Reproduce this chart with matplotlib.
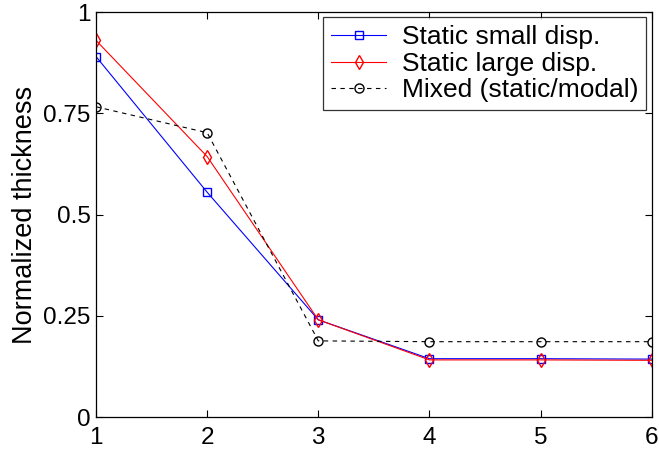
import matplotlib
matplotlib.use("Agg")
import matplotlib.pyplot as plt

# data
x = [1, 2, 3, 4, 5, 6]
small_disp = [0.89, 0.555, 0.24, 0.144, 0.144, 0.143]
large_disp = [0.93, 0.643, 0.24, 0.141, 0.141, 0.140]
mixed = [0.766, 0.702, 0.188, 0.186, 0.186, 0.186]

yticks = [0, 0.25, 0.5, 0.75, 1]
ytick_labels = ["0", "0.25", "0.5", "0.75", "1"]

plt.rcParams['font.family'] = ['Liberation Sans', 'DejaVu Sans']

fig = plt.figure(figsize=(6.59, 4.5), dpi=100)
ax = fig.add_axes([0.1457, 0.0733, 0.8433, 0.9])

ax.plot(x, small_disp, color='blue', marker='s', mfc='none', ms=5.5, lw=0.8,
        label='Static small disp.')
ax.plot(x, large_disp, color='red', marker='d', mfc='none', ms=7, lw=0.8,
        label='Static large disp.')
ax.plot(x, mixed, color='black', marker='o', mfc='none', ms=6.5, lw=0.8,
        ls=(0, (4, 4)), label='Mixed (static/modal)')

ax.set_xlim(1, 6)
ax.set_ylim(0, 1)
ax.set_xticks(x)
ax.set_yticks(yticks)
ax.set_yticklabels(ytick_labels)
ax.tick_params(direction='in', top=True, right=True, length=5, width=0.8,
               labelsize=17.5)
ax.tick_params(axis='x', pad=7)
ax.tick_params(axis='y', pad=4)
for s in ax.spines.values():
    s.set_linewidth(0.9)

ax.set_ylabel('Normalized thickness', fontsize=19.5, labelpad=4)

leg = ax.legend(loc='upper right', fontsize=19, frameon=True, fancybox=False,
                edgecolor='black', borderaxespad=0.2, handlelength=2.1,
                handletextpad=0.6, labelspacing=0.1, borderpad=0.3)
leg.get_frame().set_linewidth(0.9)

fig.savefig('out.png', dpi=100)
